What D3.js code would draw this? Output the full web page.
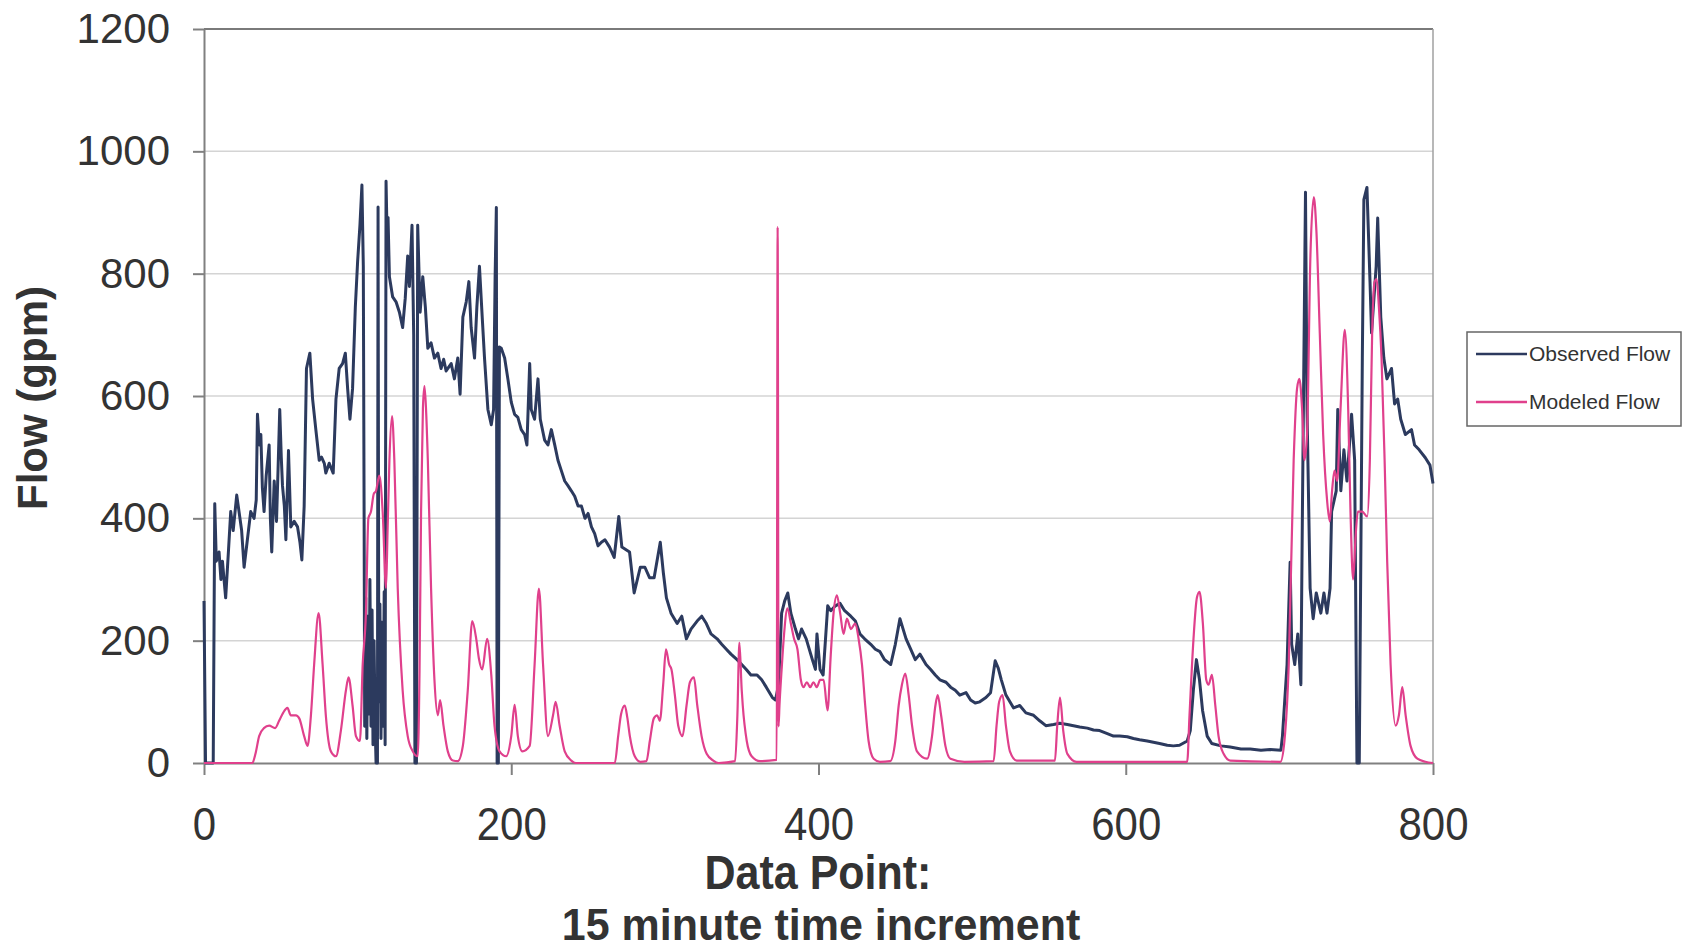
<!DOCTYPE html>
<html>
<head>
<meta charset="utf-8">
<script src="https://cdn.jsdelivr.net/npm/d3@7"></script>
<style>
  body { margin: 0; background: #fff; }
  text { font-family: "Liberation Sans", Arial, sans-serif; fill: #333; }
</style>
</head>
<body>
<div id="chart"></div>
<script>
// [data point, flow in gpm]
const observedFlow = [
  [0, 265], [1, 0], [6, 0], [7, 424], [8, 330], [9.8, 345], [11, 300], [12, 330], [14.1, 270], [16, 350],
  [17.4, 411], [19, 380], [21.3, 438], [22.8, 411], [24.5, 380], [26.1, 320], [28, 360], [30.4, 411], [32.6, 400], [34, 430],
  [34.8, 570], [36, 520], [37, 537], [38, 450], [39.1, 411], [40.5, 470], [42.4, 520], [43.2, 400], [44.1, 345], [45.7, 461],
  [47.2, 395], [48.2, 480], [49.3, 578], [50.3, 500], [51.1, 453], [52.3, 420], [53.3, 365], [55, 511], [56.5, 386], [58.7, 395],
  [60.9, 386], [62.5, 360], [63.7, 332], [65.2, 420], [66.7, 645], [68.9, 670], [70.7, 595], [72.8, 545], [75, 495], [76.5, 500],
  [78.3, 490], [79.3, 474], [81.5, 490], [84.1, 474], [85.9, 595], [88, 645], [90.2, 653], [92, 670], [93.5, 612], [95, 562],
  [96.7, 612], [98.5, 745], [100, 820], [101.5, 879], [102.8, 945], [103.7, 812], [104.2, 420], [104.6, 60], [105.3, 270], [106, 40],
  [106.7, 240], [107.4, 80], [108, 300], [108.7, 60], [109.4, 250], [110, 30], [110.7, 200], [111.4, 60], [112, 0], [112.9, 0],
  [113.3, 909], [113.8, 100], [114.5, 260], [115.2, 40], [115.9, 230], [116.6, 60], [117.3, 280], [117.9, 30], [118.5, 951], [119.2, 860],
  [119.8, 892], [120.7, 795], [122.8, 762], [125, 754], [127.2, 737], [129.3, 712], [131, 760], [132.6, 829], [133.7, 779], [135.4, 879],
  [136.5, 700], [137.3, 0], [138.3, 0], [139.1, 879], [140.7, 737], [142.4, 795], [144.1, 745], [145.7, 678], [147.8, 687], [150, 662],
  [152.2, 670], [154.3, 645], [156, 660], [157.6, 641], [160.9, 653], [163, 628], [165.2, 662], [166.7, 603], [168.5, 729], [170.7, 754],
  [172.4, 787], [173.9, 712], [176.1, 662], [177.6, 745], [179.3, 812], [181.1, 729], [182.6, 662], [184.8, 578], [187, 553], [188.5, 578],
  [189.5, 795], [190.3, 908], [190.8, 0], [191.6, 0], [192.3, 680], [193.5, 678], [195.7, 662], [197.8, 628], [200, 590], [202.2, 570],
  [204.3, 565], [206.5, 545], [208.7, 537], [210.2, 520], [212, 653], [213, 578], [215.2, 562], [217.4, 628], [218.9, 562], [221.7, 528],
  [223.9, 520], [226.1, 545], [228.3, 520], [230.4, 495], [232.6, 478], [234.8, 461], [237, 453], [239.1, 445], [241.3, 436], [243.5, 420],
  [245.7, 420], [248, 400], [250, 408], [252.2, 386], [254.3, 375], [256.5, 355], [258.7, 361], [261, 365], [264, 353], [267, 336],
  [270, 403], [272, 353], [277, 345], [280, 278], [284, 320], [287, 320], [290, 303], [293, 303], [297, 361], [299, 311],
  [301, 270], [304, 245], [308, 228], [311, 240], [314, 203], [317, 219], [321, 232], [324, 240], [327, 228], [330, 211],
  [334, 203], [337, 194], [340, 186], [343, 178], [347, 169], [350, 161], [353, 153], [356, 144], [360, 144], [363, 136],
  [366, 124], [370, 107], [372, 103], [374, 128], [376, 245], [378, 265], [380, 278], [382, 245], [385, 219], [387, 203],
  [389, 219], [392, 203], [396, 169], [398, 153], [399, 211], [401, 153], [403, 144], [406, 257], [408, 249], [411, 257],
  [414, 261], [417, 249], [421, 240], [424, 232], [427, 211], [430, 203], [434, 194], [437, 186], [440, 182], [443, 169],
  [447, 161], [450, 194], [453, 236], [457, 203], [460, 186], [463, 169], [466, 178], [470, 161], [473, 153], [476, 144],
  [479, 136], [483, 132], [486, 124], [489, 119], [492, 111], [496, 115], [499, 103], [502, 98], [505, 100], [509, 107],
  [512, 115], [515, 167], [517, 155], [519, 136], [522, 111], [527, 90], [531, 94], [535, 82], [540, 78], [544, 69],
  [548, 61], [553, 63], [557, 65], [562, 63], [566, 61], [570, 59], [575, 57], [579, 54], [583, 53], [588, 48],
  [592, 44], [596, 44], [601, 43], [605, 40], [609, 38], [614, 36], [618, 34], [622, 32], [627, 29], [631, 28],
  [635, 29], [640, 36], [642, 53], [644, 119], [646, 169], [648, 136], [650, 86], [653, 44], [656, 32], [662, 28],
  [668, 26], [675, 23], [681, 23], [688, 21], [694, 22], [701, 21], [702, 44], [705, 161], [707, 328], [708, 194],
  [710, 161], [712, 211], [714, 128], [715, 411], [717, 933], [718, 578], [720, 286], [722, 236], [724, 278], [727, 245],
  [729, 278], [731, 245], [733, 286], [734, 411], [737, 445], [738, 578], [740, 445], [742, 512], [744, 461], [747, 570],
  [749, 495], [750.5, 0], [752, 0], [754, 662], [755, 921], [757, 941], [759, 787], [760, 703], [763, 812], [764, 891],
  [766, 729], [768, 662], [770, 628], [773, 645], [775, 587], [777, 595], [779, 562], [782, 537], [786, 545], [788, 520],
  [791, 512], [795, 499], [798, 487], [800, 457]
];

const modeledFlow = [
  [0, 0], [31.5, 0], [33.5, 15], [35.9, 44], [39, 57], [42.4, 61], [46.3, 57], [48.9, 69], [51.5, 82], [54.3, 90],
  [56.5, 78], [59.8, 78], [62, 73], [65.2, 44], [67.4, 28], [69.6, 78], [71.7, 161], [74.6, 245], [77.2, 161], [79.3, 78],
  [82.6, 19], [85.9, 11], [89.1, 53], [92.4, 119], [94.1, 140], [96.7, 94], [98.9, 44], [101.5, 36], [103.3, 161], [105.4, 245],
  [107, 400], [108.7, 411], [110.5, 440], [112, 445], [114.1, 470], [116.3, 411], [118.5, 286], [119.5, 380], [120.7, 495], [122.4, 567],
  [123.9, 495], [126.1, 286], [129.3, 119], [132.6, 44], [135.9, 19], [139.1, 11], [140.3, 150], [141.3, 411], [142.5, 580], [143.5, 616],
  [144.5, 580], [145.7, 495], [147.8, 286], [150, 136], [152.2, 78], [153.7, 103], [155.9, 61], [158.7, 19], [162, 4], [165.2, 3],
  [168.5, 28], [171.7, 119], [174.6, 232], [177.2, 203], [179, 170], [181.1, 153], [184.3, 203], [187, 144], [189.1, 61], [192.4, 19],
  [196.7, 11], [200, 44], [202.2, 95], [204.3, 44], [207.2, 19], [212, 28], [215.2, 161], [218, 285], [220.7, 161], [223.9, 44],
  [227.2, 78], [228.9, 100], [231.5, 61], [234.8, 19], [239.1, 4], [242, 0], [267.4, 0], [269.6, 44], [271.5, 80], [273.9, 94],
  [275.5, 75], [277.2, 44], [280.4, 11], [284, 2], [288, 3], [290.2, 36], [292.8, 73], [295, 78], [296.7, 69], [298.9, 128],
  [300.7, 186], [302.8, 161], [304.3, 153], [306.5, 111], [308.7, 61], [311.5, 44], [314.1, 94], [316.3, 132], [318.9, 140], [321.1, 94],
  [323.9, 44], [327.2, 15], [331.5, 4], [335, 0], [345.7, 3], [347.2, 78], [348.5, 197], [350, 120], [350.7, 94], [353.3, 36],
  [356.5, 11], [362, 3], [372.8, 5], [373.4, 876], [374, 60], [374.6, 94], [376, 153], [377.6, 211], [379.8, 253], [382, 228],
  [384.1, 203], [386.3, 186], [388.5, 136], [390.2, 124], [392.4, 132], [394.6, 124], [396.7, 132], [398.9, 124], [401.1, 136], [403.3, 136],
  [405.9, 86], [408, 178], [409.8, 245], [412, 274], [414.1, 245], [416.3, 211], [418.5, 236], [421.1, 219], [423.9, 228], [426.1, 203],
  [428.3, 161], [430.4, 94], [432.6, 36], [435.9, 7], [440, 2], [446.7, 3], [450, 36], [452.2, 94], [454.3, 128], [456.5, 146],
  [458.7, 111], [460.9, 61], [464.1, 19], [470.7, 7], [473.9, 44], [476.1, 94], [477.6, 111], [479.8, 78], [482.6, 28], [485.9, 7],
  [495, 2], [514, 3], [515.9, 61], [517.6, 100], [519.8, 111], [522, 61], [524.6, 19], [529, 4], [553.9, 4], [555.4, 61],
  [557.2, 107], [559.3, 53], [562, 15], [568, 2], [640, 2], [641.5, 78], [644.1, 203], [646.3, 270], [648, 280], [650.2, 228],
  [652.4, 136], [653.9, 128], [656.1, 144], [658.3, 94], [660.4, 44], [663.7, 15], [668, 4], [700.7, 2], [703.3, 36], [706.1, 161],
  [709.3, 495], [711.5, 612], [713, 628], [714.8, 578], [716.3, 495], [718, 537], [720.2, 829], [722.4, 925], [724.1, 870], [726.3, 703],
  [728.5, 537], [731.1, 428], [732.8, 395], [734.3, 445], [735.9, 478], [737.6, 461], [739.8, 578], [742.6, 708], [744.8, 578], [746.3, 411],
  [748, 300], [749.6, 370], [751.1, 411], [753.9, 411], [757.2, 403], [758.9, 495], [760.4, 703], [762, 787], [763.3, 791], [764.8, 745],
  [766.5, 662], [768.5, 495], [770.2, 328], [772.4, 161], [775.7, 61], [777.8, 78], [780, 124], [782.2, 78], [785.4, 28], [789.8, 7],
  [795, 2], [800, 0]
];

const xTicks = [0, 200, 400, 600, 800];
const yTicks = [0, 200, 400, 600, 800, 1000, 1200];
const seriesNames = ["Observed Flow", "Modeled Flow"];
const seriesColors = ["#2c3a5e", "#e0408c"];

const width = 1687;
const height = 951;
const margin = { top: 29, right: 254, bottom: 188, left: 204 };
const plotW = width - margin.left - margin.right;
const plotH = height - margin.top - margin.bottom;

const svg = d3.select("#chart")
  .append("svg")
  .attr("width", width)
  .attr("height", height);

const g = svg.append("g")
  .attr("transform", `translate(${margin.left}, ${margin.top})`);

const x = d3.scaleLinear().domain([0, 800]).range([0, plotW]);
const y = d3.scaleLinear().domain([0, 1200]).range([plotH, 0]);

// horizontal gridlines
g.selectAll(".grid")
  .data(yTicks.filter((d) => d > 0 && d < 1200))
  .enter()
  .append("line")
  .attr("x1", 0)
  .attr("x2", plotW)
  .attr("y1", (d) => y(d))
  .attr("y2", (d) => y(d))
  .attr("stroke", "#d4d4d4")
  .attr("stroke-width", 1.5);

// top and right frame
g.append("line")
  .attr("x1", 0).attr("x2", plotW)
  .attr("y1", y(1200)).attr("y2", y(1200))
  .attr("stroke", "#7a7a7a").attr("stroke-width", 2);
g.append("line")
  .attr("x1", x(800)).attr("x2", x(800))
  .attr("y1", 0).attr("y2", plotH)
  .attr("stroke", "#a0a0a0").attr("stroke-width", 1.5);

const yAxis = g.append("g")
  .call(d3.axisLeft(y)
    .tickValues(yTicks)
    .tickFormat(d3.format("d"))
    .tickSize(11)
    .tickSizeOuter(0)
    .tickPadding(23));
yAxis.selectAll("text").attr("font-size", 42).attr("fill", "#333");

const xAxis = g.append("g")
  .attr("transform", `translate(0, ${plotH})`)
  .call(d3.axisBottom(x).tickValues(xTicks).tickSize(12).tickSizeOuter(0));
xAxis.selectAll("text")
  .attr("font-size", 42)
  .attr("fill", "#333")
  .attr("y", 39)
  .attr("dy", "0.71em")
  .attr("transform", "scale(1, 1.12)");

svg.selectAll(".domain, .tick line")
  .attr("stroke", "#808080")
  .attr("stroke-width", 2);

const line = d3.line()
  .x((d) => x(d[0]))
  .y((d) => y(d[1]));

// modeled output is a smooth hydrograph, so round its corners
const smoothLine = d3.line()
  .x((d) => x(d[0]))
  .y((d) => y(d[1]))
  .curve(d3.curveMonotoneX);

g.append("path")
  .datum(observedFlow)
  .attr("d", line)
  .attr("fill", "none")
  .attr("stroke", seriesColors[0])
  .attr("stroke-width", 3)
  .attr("stroke-linejoin", "round");

g.append("path")
  .datum(modeledFlow)
  .attr("d", smoothLine)
  .attr("fill", "none")
  .attr("stroke", seriesColors[1])
  .attr("stroke-width", 2.2)
  .attr("stroke-linejoin", "round");

// axis titles
svg.append("text")
  .attr("transform", "translate(47, 398) rotate(-90)")
  .attr("text-anchor", "middle")
  .attr("font-size", 42)
  .attr("font-weight", "bold")
  .text("Flow (gpm)");

svg.append("text")
  .attr("transform", "translate(818, 889) scale(1, 1.1)")
  .attr("text-anchor", "middle")
  .attr("font-size", 43)
  .attr("font-weight", "bold")
  .text("Data Point:");

svg.append("text")
  .attr("transform", "translate(821, 940) scale(1, 1.05)")
  .attr("text-anchor", "middle")
  .attr("font-size", 43)
  .attr("font-weight", "bold")
  .text("15 minute time increment");

// legend
const legend = svg.append("g").attr("transform", "translate(1467, 332)");
legend.append("rect")
  .attr("width", 214)
  .attr("height", 94)
  .attr("fill", "#fff")
  .attr("stroke", "#666")
  .attr("stroke-width", 1.5);

const items = legend.selectAll(".item")
  .data(seriesNames)
  .enter()
  .append("g")
  .attr("transform", (d, i) => `translate(0, ${22 + i * 48})`);

items.append("line")
  .attr("x1", 9).attr("x2", 60)
  .attr("stroke", (d, i) => seriesColors[i])
  .attr("stroke-width", 2.4);

items.append("text")
  .attr("x", 62)
  .attr("dy", "0.35em")
  .attr("font-size", 21)
  .text((d) => d);
</script>
</body>
</html>
